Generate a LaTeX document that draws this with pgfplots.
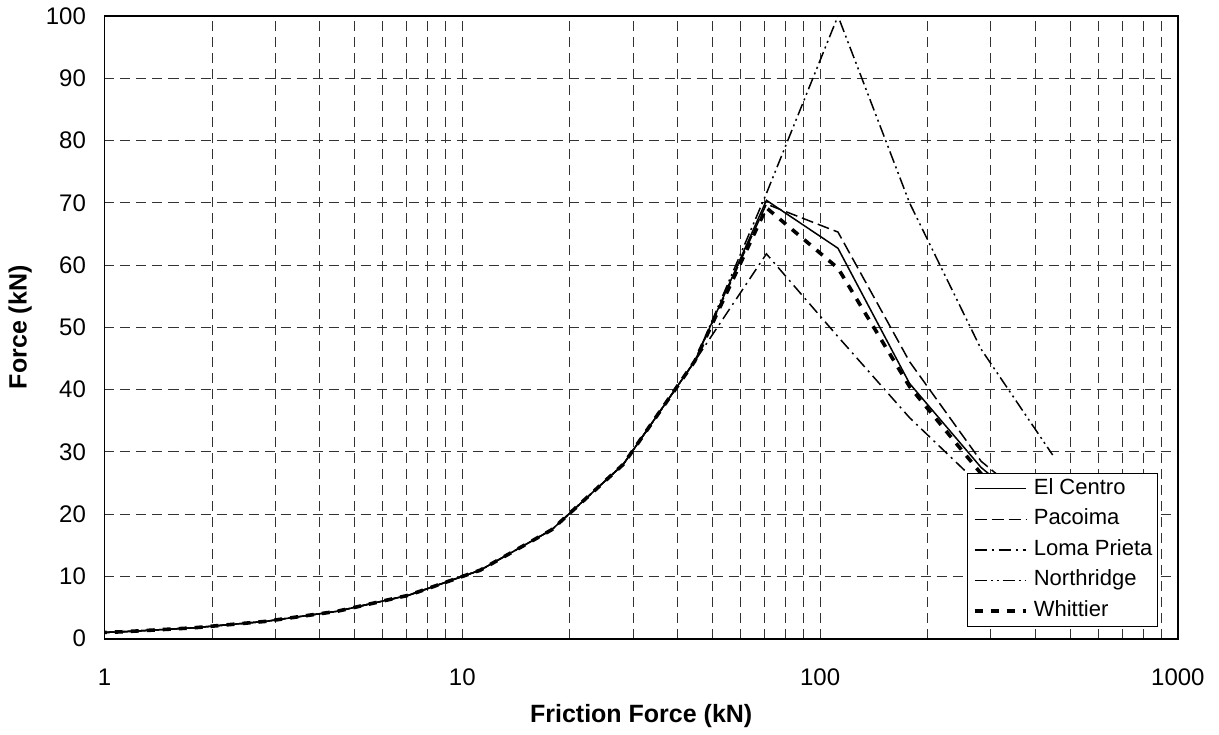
\documentclass[border=0pt]{standalone}
\usepackage{pgfplots}
\pgfplotsset{compat=1.18}
\usepackage{pgfplotstable}
\usepackage{fontspec}
\setmainfont{Liberation Sans}

% Peak force against friction force for five ground motions
\pgfplotstableread{
x       elc    pac    lom    nor    whi
0.7079  0.70   0.70   0.70   0.70   0.70
1.122   1.11   1.11   1.11   1.11   1.11
1.778   1.75   1.75   1.75   1.75   1.75
2.818   2.78   2.78   2.78   2.78   2.78
4.467   4.40   4.40   4.40   4.40   4.40
7.079   6.98   6.98   6.98   6.98   6.98
11.22   11.0   11.0   11.0   11.0   11.0
17.78   17.5   17.5   17.5   17.5   17.5
28.18   28.0   28.0   28.0   28.0   28.0
44.67   44.6   44.6   44.6   44.6   44.6
70.79   70.4   69.8   61.8   71.5   69.2
112.2   62.7   65.3   48.5   100.0  59.5
177.8   41.0   44.5   35.5   70.0   40.5
281.8   27.5   28.5   24.5   46.5   26.5
446.7   18.0   19.0   16.0   29.5   17.5
}\spectra

\begin{document}
\begin{tikzpicture}
\begin{axis}[
  scale only axis,
  width=536.7pt, height=311.35pt,
  xmode=log, log basis x=10,
  xmin=1, xmax=1000, ymin=0, ymax=100,
  xtick={1,10,100,1000}, xticklabels={1,10,100,1000},
  minor xtick={2,3,4,5,6,7,8,9,20,30,40,50,60,70,80,90,200,300,400,500,600,700,800,900},
  ytick={0,10,...,100},
  major tick length=0pt, minor tick length=0pt,
  grid=both,
  major grid style={black!80, line width=0.5pt, dash pattern=on 5pt off 3pt},
  minor grid style={black!80, line width=0.5pt, dash pattern=on 5pt off 3pt},
  axis line style={line width=0.8pt},
  /pgf/number format/assume math mode=true,
  tick label style={font=\fontsize{12}{14}\selectfont},
  xticklabel style={yshift=-11.5pt},
  yticklabel style={xshift=-5.75pt},
  xlabel={Friction Force (kN)},
  ylabel={Force (kN)},
  label style={font=\bfseries\fontsize{12.5}{15}\selectfont},
  xlabel style={at={(axis description cs:0.5,-0.13377)}, anchor=base},
  ylabel style={at={(axis description cs:-0.07248,0.5)}, anchor=base},
  legend style={at={(axis description cs:0.9815,0.0188)}, anchor=south east,
    draw=black, line width=0.6pt, fill=white,
    font=\fontsize{11}{12}\selectfont,
    inner xsep=2.5pt, inner ysep=2.65pt, row sep=5.3pt, column sep=2.9pt,
    nodes={inner sep=0pt, text height=7.7pt, text depth=2.3pt}},
  legend cell align=left,
  legend image code/.code={\draw[#1] (0pt,0pt) -- (25.8pt,0pt);},
]
\addplot[black, line width=0.75pt, solid] table[x=x, y=elc] {\spectra};
\addlegendentry{El Centro}
\addplot[black, line width=0.75pt, dash pattern=on 6pt off 2.5pt] table[x=x, y=pac] {\spectra};
\addlegendentry{Pacoima}
\addplot[black, line width=0.75pt, dash pattern=on 6pt off 2.5pt on 1pt off 2.5pt] table[x=x, y=lom] {\spectra};
\addlegendentry{Loma Prieta}
\addplot[black, line width=0.75pt, dash pattern=on 6pt off 2pt on 1pt off 2pt on 1pt off 2pt] table[x=x, y=nor] {\spectra};
\addlegendentry{Northridge}
\addplot[black, line width=1.8pt, dash pattern=on 4pt off 4pt] table[x=x, y=whi] {\spectra};
\addlegendentry{Whittier}
\end{axis}
\pgfresetboundingbox
\path (-52.25pt,-47.65pt) rectangle (557.25pt,319.35pt);
\end{tikzpicture}
\end{document}
